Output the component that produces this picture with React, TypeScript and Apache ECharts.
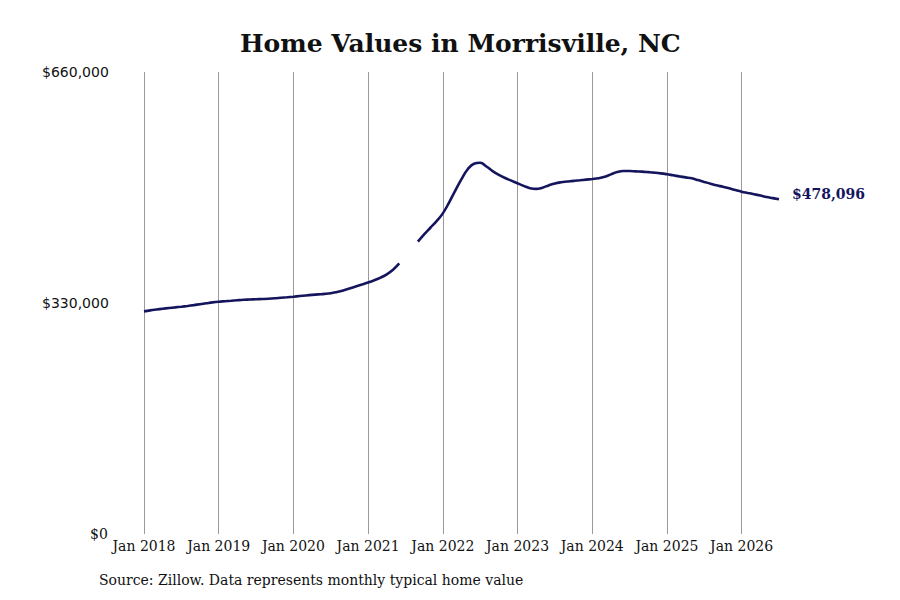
import { useEffect, useRef } from 'react';
import * as echarts from 'echarts';

// monthly typical home value, Jan 2018 .. Jul 2026 (Jul/Aug 2021 missing)
const values2018 = [318000, 319500, 320700, 321800, 322800, 323700, 324700, 325800, 327000, 328300, 329600, 330900];
const values2019 = [331900, 332600, 333300, 334000, 334600, 335000, 335400, 335700, 336100, 336700, 337500, 338200];
const values2020 = [339000, 339900, 340800, 341600, 342300, 343000, 344000, 345800, 348000, 350700, 353600, 356400];
const values2021 = [359200, 362500, 366300, 371000, 377500, 386500, null, null, 417600, 428000, 437500, 447000];
const values2022 = [458000, 473500, 490500, 507000, 521000, 529000, 530300, 525000, 518500, 513000, 508500, 504800];
const values2023 = [501000, 497300, 494000, 493000, 494800, 498000, 500800, 502500, 503500, 504500, 505300, 506200];
const values2024 = [507100, 508100, 510200, 513800, 517000, 518500, 518500, 518100, 517700, 517000, 516200, 515200];
const values2025 = [513900, 512400, 510900, 509500, 508100, 505600, 503000, 500400, 498100, 496000, 493800, 491300];
const values2026 = [489000, 487200, 485400, 483500, 481500, 479800, 478096];

const values: (number | null)[] = [
  ...values2018, ...values2019, ...values2020, ...values2021, ...values2022,
  ...values2023, ...values2024, ...values2025, ...values2026,
];

const monthNames = ['Jan', 'Feb', 'Mar', 'Apr', 'May', 'Jun', 'Jul', 'Aug', 'Sep', 'Oct', 'Nov', 'Dec'];
const months = values.map((_, i) => `${monthNames[i % 12]} ${2018 + Math.floor(i / 12)}`);

const yTicks = [0, 330000, 660000];

const fmt = (v: number) => '$' + v.toLocaleString('en-US');

export default function App() {
  const ref = useRef<HTMLDivElement>(null);

  useEffect(() => {
    if (!ref.current) return;
    const chart = echarts.init(ref.current, null, { renderer: 'svg' });
    const isJan = (i: number) => i % 12 === 0;

    chart.setOption({
      animation: false,
      backgroundColor: '#ffffff',
      title: {
        text: 'Home Values in Morrisville, NC',
        left: 235,
        top: 26,
        textStyle: {
          fontFamily: 'DejaVu Serif',
          fontWeight: 'bold',
          fontSize: 25,
          color: '#111111',
        },
      },
      grid: { left: 144, right: 121, top: 72, bottom: 66 },
      xAxis: {
        type: 'category',
        data: months,
        boundaryGap: false,
        axisLine: { show: false },
        axisTick: { show: false },
        axisLabel: {
          interval: (i: number) => isJan(i),
          formatter: (v: string) => v,
          fontFamily: 'DejaVu Serif',
          fontSize: 14,
          color: '#111111',
          margin: 5,
        },
        splitLine: {
          show: true,
          interval: (i: number) => isJan(i),
          lineStyle: { color: '#9a9a9a', width: 1 },
        },
      },
      yAxis: {
        type: 'value',
        min: yTicks[0],
        max: yTicks[yTicks.length - 1],
        interval: yTicks[1] - yTicks[0],
        splitLine: { show: false },
        axisLine: { show: false },
        axisTick: { show: false },
        axisLabel: {
          align: 'left',
          margin: 102,
          fontFamily: 'DejaVu Sans',
          fontSize: 14,
          color: '#111111',
          formatter: (v: number) => (v === 0 ? `{serifLbl|${fmt(v)}}` : `{sansLbl|${fmt(v)}}`),
          rich: {
            serifLbl: {
              fontFamily: 'DejaVu Serif',
              fontSize: 14,
              color: '#111111',
              padding: [0, 0, 0, 48],
            },
            sansLbl: { fontFamily: 'DejaVu Sans', fontSize: 14, color: '#111111' },
          },
        },
      },
      series: [
        {
          type: 'line',
          data: values,
          connectNulls: false,
          smooth: 0.45,
          showSymbol: false,
          symbol: 'none',
          lineStyle: { color: '#15155e', width: 2.6 },
          endLabel: {
            show: true,
            distance: 13,
            offset: [0, -5],
            formatter: (p: any) => fmt(p.value),
            fontFamily: 'DejaVu Serif',
            fontWeight: 'bold',
            fontSize: 14,
            color: '#15155e',
          },
        },
      ],
      graphic: [
        {
          type: 'text',
          left: 99,
          top: 573,
          style: {
            text: 'Source: Zillow. Data represents monthly typical home value',
            font: '14px "DejaVu Serif"',
            fill: '#111111',
          },
        },
      ],
    });

    return () => chart.dispose();
  }, []);

  return (
    <div
      ref={ref}
      style={{ position: 'fixed', left: 0, top: 0, width: 900, height: 600 }}
    />
  );
}
